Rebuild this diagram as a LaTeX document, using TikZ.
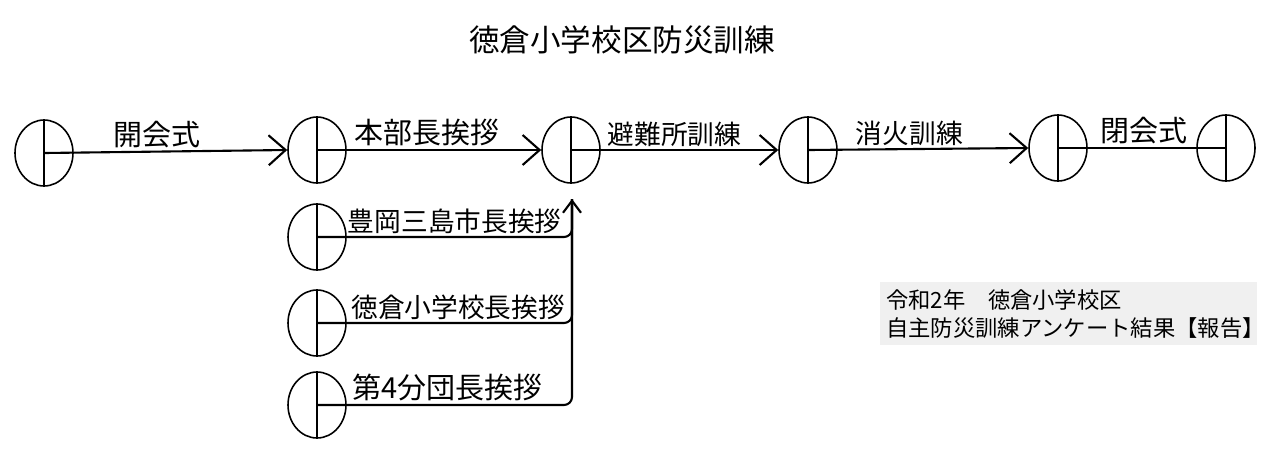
\documentclass[tikz,border=0pt]{standalone}
\usepackage{fontspec}
\newfontfamily\jp{Noto Sans CJK JP}
\usetikzlibrary{
  shapes.geometric
  , arrows.meta
}

\begin{document}
\begin{tikzpicture}[x=0.02cm, y=-0.02cm, font=\jp]
      \tikzstyle{event}=[ellipse, draw, line width=0.9pt, minimum width=1.16cm, minimum height=1.32cm, inner sep=0pt]
      \tikzstyle{act}=[line width=1.2pt, -{Straight Barb[length=3.4mm, width=6mm]}]
      \tikzstyle{sub}=[line width=1.2pt, rounded corners=1.6mm]
      \tikzstyle{big label}=[font=\jp\fontsize{16.5pt}{18pt}\selectfont, inner sep=1.5pt]
      \tikzstyle{small label}=[font=\jp\fontsize{15.2pt}{17pt}\selectfont, inner sep=1.5pt]

      \useasboundingbox (0,0) rectangle (1287,471);

      \node [font=\jp\fontsize{17.4pt}{19pt}\selectfont] (title) at (622,40) {徳倉小学校区防災訓練};

      % main line
      \node [event] (C1) at (44,153) {};
      \node [event] (C2) at (317,150) {};
      \node [event] (C3) at (571,150) {};
      \node [event] (C4) at (808,150) {};
      \node [event] (C5) at (1058,148) {};
      \node [event] (C6) at (1226,148) {};

      % greetings
      \node [event] (D1) at (317,237) {};
      \node [event] (D2) at (317,323) {};
      \node [event] (D3) at (317,405) {};
      \coordinate (M) at (572,199);

      \foreach \n in {C1,C2,C3,C4,C5,C6,D1,D2,D3}
        \draw [line width=1.2pt] (\n.north) -- (\n.south);

      \draw [act] (C1.center) -- node[big label, above, pos=0.465]{開会式} (C2.west);
      \draw [act] (C2.center) -- node[big label, above, pos=0.49]{本部長挨拶} (C3.west);
      \draw [act] (C3.center) -- node[small label, above, pos=0.5]{避難所訓練} (C4.west);
      \draw [act] (C4.center) -- node[small label, above, pos=0.46]{消火訓練} (C5.west);
      \draw [line width=1.2pt] (C5.center) -- node[big label, above, pos=0.51]{閉会式} (C6.center);

      \draw [sub, -{Straight Barb[length=2.4mm, width=3.6mm]}] (D1.center) -| node[small label, above, pos=0.27]{豊岡三島市長挨拶} (M);
      \draw [sub] (D2.center) -| node[small label, above, pos=0.277]{徳倉小学校長挨拶} (M);
      \draw [sub] (D3.center) -| node[big label, above, pos=0.255]{第4分団長挨拶} (M);

      \node [fill=gray!12, anchor=north west, align=left, text width=7.3cm, inner xsep=0.12cm, minimum height=1.26cm,
             font=\jp\fontsize{12.7pt}{16pt}\selectfont] (note) at (880,282) {令和2年　徳倉小学校区\\自主防災訓練アンケート結果【報告】};

    \end{tikzpicture}
\end{document}
